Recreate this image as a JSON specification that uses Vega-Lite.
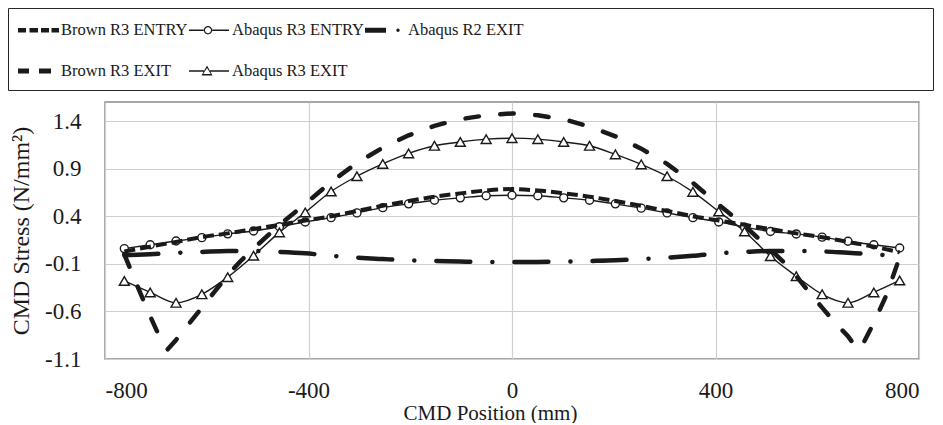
{
  "$schema": "https://vega.github.io/schema/vega-lite/v6.json",
  "padding": {"left": 7, "top": 7, "right": 0, "bottom": 0},
  "width": 814,
  "height": 257,
  "config": {
    "font": "Liberation Serif",
    "view": {"stroke": "#8a8a8a", "strokeWidth": 1.5},
    "axis": {
      "labelFont": "Liberation Serif",
      "labelFontSize": 23,
      "labelColor": "#1a1a1a",
      "titleFont": "Liberation Serif",
      "titleFontWeight": "normal",
      "titleColor": "#1a1a1a",
      "gridColor": "#cfcfcf",
      "gridWidth": 1.2,
      "domain": false,
      "ticks": false,
      "tickSize": 0
    },
    "legend": {
      "labelFont": "Liberation Serif",
      "labelFontSize": 16.5,
      "labelColor": "#1a1a1a"
    }
  },
  "datasets": {
    "stress": [
      {"series": "Abaqus R3 ENTRY", "position": -762, "stress": 0.06},
      {"series": "Abaqus R3 ENTRY", "position": -711.2, "stress": 0.1},
      {"series": "Abaqus R3 ENTRY", "position": -660.4, "stress": 0.14},
      {"series": "Abaqus R3 ENTRY", "position": -609.6, "stress": 0.175},
      {"series": "Abaqus R3 ENTRY", "position": -558.8, "stress": 0.215},
      {"series": "Abaqus R3 ENTRY", "position": -508, "stress": 0.245},
      {"series": "Abaqus R3 ENTRY", "position": -457.2, "stress": 0.29},
      {"series": "Abaqus R3 ENTRY", "position": -406.4, "stress": 0.34},
      {"series": "Abaqus R3 ENTRY", "position": -355.6, "stress": 0.385},
      {"series": "Abaqus R3 ENTRY", "position": -304.8, "stress": 0.435},
      {"series": "Abaqus R3 ENTRY", "position": -254, "stress": 0.49},
      {"series": "Abaqus R3 ENTRY", "position": -203.2, "stress": 0.53},
      {"series": "Abaqus R3 ENTRY", "position": -152.4, "stress": 0.568},
      {"series": "Abaqus R3 ENTRY", "position": -101.6, "stress": 0.593},
      {"series": "Abaqus R3 ENTRY", "position": -50.8, "stress": 0.615},
      {"series": "Abaqus R3 ENTRY", "position": 0, "stress": 0.62},
      {"series": "Abaqus R3 ENTRY", "position": 50.8, "stress": 0.615},
      {"series": "Abaqus R3 ENTRY", "position": 101.6, "stress": 0.593},
      {"series": "Abaqus R3 ENTRY", "position": 152.4, "stress": 0.568},
      {"series": "Abaqus R3 ENTRY", "position": 203.2, "stress": 0.53},
      {"series": "Abaqus R3 ENTRY", "position": 254, "stress": 0.485},
      {"series": "Abaqus R3 ENTRY", "position": 304.8, "stress": 0.435},
      {"series": "Abaqus R3 ENTRY", "position": 355.6, "stress": 0.385},
      {"series": "Abaqus R3 ENTRY", "position": 406.4, "stress": 0.34},
      {"series": "Abaqus R3 ENTRY", "position": 457.2, "stress": 0.285},
      {"series": "Abaqus R3 ENTRY", "position": 508, "stress": 0.24},
      {"series": "Abaqus R3 ENTRY", "position": 558.8, "stress": 0.214},
      {"series": "Abaqus R3 ENTRY", "position": 609.6, "stress": 0.18},
      {"series": "Abaqus R3 ENTRY", "position": 660.4, "stress": 0.137},
      {"series": "Abaqus R3 ENTRY", "position": 711.2, "stress": 0.1},
      {"series": "Abaqus R3 ENTRY", "position": 762, "stress": 0.066},

      {"series": "Abaqus R3 EXIT", "position": -762, "stress": -0.28},
      {"series": "Abaqus R3 EXIT", "position": -711.2, "stress": -0.4},
      {"series": "Abaqus R3 EXIT", "position": -660.4, "stress": -0.51},
      {"series": "Abaqus R3 EXIT", "position": -609.6, "stress": -0.42},
      {"series": "Abaqus R3 EXIT", "position": -558.8, "stress": -0.24},
      {"series": "Abaqus R3 EXIT", "position": -508, "stress": -0.015},
      {"series": "Abaqus R3 EXIT", "position": -457.2, "stress": 0.23},
      {"series": "Abaqus R3 EXIT", "position": -406.4, "stress": 0.44},
      {"series": "Abaqus R3 EXIT", "position": -355.6, "stress": 0.66},
      {"series": "Abaqus R3 EXIT", "position": -304.8, "stress": 0.82},
      {"series": "Abaqus R3 EXIT", "position": -254, "stress": 0.95},
      {"series": "Abaqus R3 EXIT", "position": -203.2, "stress": 1.06},
      {"series": "Abaqus R3 EXIT", "position": -152.4, "stress": 1.14},
      {"series": "Abaqus R3 EXIT", "position": -101.6, "stress": 1.18},
      {"series": "Abaqus R3 EXIT", "position": -50.8, "stress": 1.21},
      {"series": "Abaqus R3 EXIT", "position": 0, "stress": 1.22},
      {"series": "Abaqus R3 EXIT", "position": 50.8, "stress": 1.21},
      {"series": "Abaqus R3 EXIT", "position": 101.6, "stress": 1.18},
      {"series": "Abaqus R3 EXIT", "position": 152.4, "stress": 1.14},
      {"series": "Abaqus R3 EXIT", "position": 203.2, "stress": 1.05},
      {"series": "Abaqus R3 EXIT", "position": 254, "stress": 0.945},
      {"series": "Abaqus R3 EXIT", "position": 304.8, "stress": 0.82},
      {"series": "Abaqus R3 EXIT", "position": 355.6, "stress": 0.656},
      {"series": "Abaqus R3 EXIT", "position": 406.4, "stress": 0.45},
      {"series": "Abaqus R3 EXIT", "position": 457.2, "stress": 0.24},
      {"series": "Abaqus R3 EXIT", "position": 508, "stress": -0.02},
      {"series": "Abaqus R3 EXIT", "position": 558.8, "stress": -0.23},
      {"series": "Abaqus R3 EXIT", "position": 609.6, "stress": -0.42},
      {"series": "Abaqus R3 EXIT", "position": 660.4, "stress": -0.51},
      {"series": "Abaqus R3 EXIT", "position": 711.2, "stress": -0.4},
      {"series": "Abaqus R3 EXIT", "position": 762, "stress": -0.275},

      {"series": "Brown R3 ENTRY", "position": -762, "stress": 0.03},
      {"series": "Brown R3 ENTRY", "position": -711.2, "stress": 0.08},
      {"series": "Brown R3 ENTRY", "position": -660.4, "stress": 0.13},
      {"series": "Brown R3 ENTRY", "position": -609.6, "stress": 0.18},
      {"series": "Brown R3 ENTRY", "position": -558.8, "stress": 0.22},
      {"series": "Brown R3 ENTRY", "position": -508, "stress": 0.265},
      {"series": "Brown R3 ENTRY", "position": -457.2, "stress": 0.31},
      {"series": "Brown R3 ENTRY", "position": -406.4, "stress": 0.355},
      {"series": "Brown R3 ENTRY", "position": -355.6, "stress": 0.4},
      {"series": "Brown R3 ENTRY", "position": -304.8, "stress": 0.455},
      {"series": "Brown R3 ENTRY", "position": -254, "stress": 0.51},
      {"series": "Brown R3 ENTRY", "position": -203.2, "stress": 0.56},
      {"series": "Brown R3 ENTRY", "position": -152.4, "stress": 0.605},
      {"series": "Brown R3 ENTRY", "position": -101.6, "stress": 0.64},
      {"series": "Brown R3 ENTRY", "position": -50.8, "stress": 0.67},
      {"series": "Brown R3 ENTRY", "position": 0, "stress": 0.685},
      {"series": "Brown R3 ENTRY", "position": 50.8, "stress": 0.67},
      {"series": "Brown R3 ENTRY", "position": 101.6, "stress": 0.64},
      {"series": "Brown R3 ENTRY", "position": 152.4, "stress": 0.605},
      {"series": "Brown R3 ENTRY", "position": 203.2, "stress": 0.56},
      {"series": "Brown R3 ENTRY", "position": 254, "stress": 0.51},
      {"series": "Brown R3 ENTRY", "position": 304.8, "stress": 0.455},
      {"series": "Brown R3 ENTRY", "position": 355.6, "stress": 0.4},
      {"series": "Brown R3 ENTRY", "position": 406.4, "stress": 0.355},
      {"series": "Brown R3 ENTRY", "position": 457.2, "stress": 0.31},
      {"series": "Brown R3 ENTRY", "position": 508, "stress": 0.265},
      {"series": "Brown R3 ENTRY", "position": 558.8, "stress": 0.22},
      {"series": "Brown R3 ENTRY", "position": 609.6, "stress": 0.18},
      {"series": "Brown R3 ENTRY", "position": 660.4, "stress": 0.13},
      {"series": "Brown R3 ENTRY", "position": 711.2, "stress": 0.08},
      {"series": "Brown R3 ENTRY", "position": 762, "stress": 0.02},

      {"series": "Brown R3 EXIT", "position": -762, "stress": 0.0},
      {"series": "Brown R3 EXIT", "position": -736.6, "stress": -0.33},
      {"series": "Brown R3 EXIT", "position": -711.2, "stress": -0.65},
      {"series": "Brown R3 EXIT", "position": -690, "stress": -0.9},
      {"series": "Brown R3 EXIT", "position": -677, "stress": -1.0},
      {"series": "Brown R3 EXIT", "position": -660.4, "stress": -0.9},
      {"series": "Brown R3 EXIT", "position": -635, "stress": -0.73},
      {"series": "Brown R3 EXIT", "position": -609.6, "stress": -0.56},
      {"series": "Brown R3 EXIT", "position": -584.2, "stress": -0.39},
      {"series": "Brown R3 EXIT", "position": -558.8, "stress": -0.22},
      {"series": "Brown R3 EXIT", "position": -533.4, "stress": -0.07},
      {"series": "Brown R3 EXIT", "position": -508, "stress": 0.06},
      {"series": "Brown R3 EXIT", "position": -457.2, "stress": 0.31},
      {"series": "Brown R3 EXIT", "position": -406.4, "stress": 0.53},
      {"series": "Brown R3 EXIT", "position": -355.6, "stress": 0.76},
      {"series": "Brown R3 EXIT", "position": -304.8, "stress": 0.96},
      {"series": "Brown R3 EXIT", "position": -254, "stress": 1.12},
      {"series": "Brown R3 EXIT", "position": -203.2, "stress": 1.25},
      {"series": "Brown R3 EXIT", "position": -152.4, "stress": 1.35},
      {"series": "Brown R3 EXIT", "position": -101.6, "stress": 1.42},
      {"series": "Brown R3 EXIT", "position": -50.8, "stress": 1.46},
      {"series": "Brown R3 EXIT", "position": 0, "stress": 1.48},
      {"series": "Brown R3 EXIT", "position": 50.8, "stress": 1.46},
      {"series": "Brown R3 EXIT", "position": 101.6, "stress": 1.42},
      {"series": "Brown R3 EXIT", "position": 152.4, "stress": 1.34},
      {"series": "Brown R3 EXIT", "position": 203.2, "stress": 1.24},
      {"series": "Brown R3 EXIT", "position": 254, "stress": 1.11},
      {"series": "Brown R3 EXIT", "position": 304.8, "stress": 0.95},
      {"series": "Brown R3 EXIT", "position": 355.6, "stress": 0.75},
      {"series": "Brown R3 EXIT", "position": 406.4, "stress": 0.52},
      {"series": "Brown R3 EXIT", "position": 457.2, "stress": 0.3},
      {"series": "Brown R3 EXIT", "position": 508, "stress": 0.05},
      {"series": "Brown R3 EXIT", "position": 533.4, "stress": -0.08},
      {"series": "Brown R3 EXIT", "position": 558.8, "stress": -0.23},
      {"series": "Brown R3 EXIT", "position": 584.2, "stress": -0.4},
      {"series": "Brown R3 EXIT", "position": 609.6, "stress": -0.56},
      {"series": "Brown R3 EXIT", "position": 635, "stress": -0.72},
      {"series": "Brown R3 EXIT", "position": 660.4, "stress": -0.86},
      {"series": "Brown R3 EXIT", "position": 679, "stress": -1.0},
      {"series": "Brown R3 EXIT", "position": 692, "stress": -0.92},
      {"series": "Brown R3 EXIT", "position": 711.2, "stress": -0.72},
      {"series": "Brown R3 EXIT", "position": 736.6, "stress": -0.42},
      {"series": "Brown R3 EXIT", "position": 762, "stress": -0.03},

      {"series": "Abaqus R2 EXIT", "position": -762, "stress": -0.01},
      {"series": "Abaqus R2 EXIT", "position": -711.2, "stress": 0.0},
      {"series": "Abaqus R2 EXIT", "position": -660.4, "stress": 0.015},
      {"series": "Abaqus R2 EXIT", "position": -609.6, "stress": 0.025},
      {"series": "Abaqus R2 EXIT", "position": -558.8, "stress": 0.035},
      {"series": "Abaqus R2 EXIT", "position": -508, "stress": 0.035},
      {"series": "Abaqus R2 EXIT", "position": -457.2, "stress": 0.025},
      {"series": "Abaqus R2 EXIT", "position": -406.4, "stress": 0.01},
      {"series": "Abaqus R2 EXIT", "position": -355.6, "stress": -0.015},
      {"series": "Abaqus R2 EXIT", "position": -304.8, "stress": -0.035},
      {"series": "Abaqus R2 EXIT", "position": -254, "stress": -0.05},
      {"series": "Abaqus R2 EXIT", "position": -203.2, "stress": -0.063},
      {"series": "Abaqus R2 EXIT", "position": -152.4, "stress": -0.07},
      {"series": "Abaqus R2 EXIT", "position": -101.6, "stress": -0.076},
      {"series": "Abaqus R2 EXIT", "position": -50.8, "stress": -0.08},
      {"series": "Abaqus R2 EXIT", "position": 0, "stress": -0.08},
      {"series": "Abaqus R2 EXIT", "position": 50.8, "stress": -0.08},
      {"series": "Abaqus R2 EXIT", "position": 101.6, "stress": -0.076},
      {"series": "Abaqus R2 EXIT", "position": 152.4, "stress": -0.07},
      {"series": "Abaqus R2 EXIT", "position": 203.2, "stress": -0.063},
      {"series": "Abaqus R2 EXIT", "position": 254, "stress": -0.05},
      {"series": "Abaqus R2 EXIT", "position": 304.8, "stress": -0.035},
      {"series": "Abaqus R2 EXIT", "position": 355.6, "stress": -0.015},
      {"series": "Abaqus R2 EXIT", "position": 406.4, "stress": 0.01},
      {"series": "Abaqus R2 EXIT", "position": 457.2, "stress": 0.025},
      {"series": "Abaqus R2 EXIT", "position": 508, "stress": 0.035},
      {"series": "Abaqus R2 EXIT", "position": 558.8, "stress": 0.035},
      {"series": "Abaqus R2 EXIT", "position": 609.6, "stress": 0.03},
      {"series": "Abaqus R2 EXIT", "position": 660.4, "stress": 0.015},
      {"series": "Abaqus R2 EXIT", "position": 711.2, "stress": 0.0},
      {"series": "Abaqus R2 EXIT", "position": 762, "stress": -0.02}
    ]
  },
  "data": {"name": "stress"},
  "encoding": {
    "x": {
      "field": "position",
      "type": "quantitative",
      "scale": {"domain": [-800, 800], "nice": false},
      "axis": {
        "values": [-800, -400, 0, 400, 800],
        "labelExpr": "datum.value < 0 ? '-' + format(-datum.value, 'd') : format(datum.value, 'd')",
        "labelPadding": 20,
        "title": "CMD Position (mm)",
        "titleFontSize": 21,
        "titlePadding": 0,
        "titleX": 385
      }
    },
    "y": {
      "field": "stress",
      "type": "quantitative",
      "scale": {"domain": [-1.1, 1.6], "nice": false, "zero": false},
      "axis": {
        "values": [-1.1, -0.6, -0.1, 0.4, 0.9, 1.4],
        "labelExpr": "datum.value < 0 ? '-' + format(-datum.value, '.1f') : format(datum.value, '.1f')",
        "labelPadding": 24,
        "title": "CMD Stress (N/mm²)",
        "titleFontSize": 24,
        "titlePadding": 11
      }
    }
  },
  "layer": [
    {
      "transform": [{"filter": "datum.series == 'Abaqus R3 ENTRY' || datum.series == 'Abaqus R3 EXIT'"}],
      "mark": {"type": "line", "interpolate": "monotone", "color": "#1a1a1a", "strokeWidth": 1.4},
      "encoding": {"detail": {"field": "series"}}
    },
    {
      "transform": [{"filter": "datum.series == 'Abaqus R3 ENTRY'"}],
      "mark": {"type": "point", "shape": "circle", "size": 64, "filled": true, "fill": "white", "stroke": "#1a1a1a", "strokeWidth": 1.4, "opacity": 1}
    },
    {
      "transform": [{"filter": "datum.series == 'Abaqus R3 EXIT'"}],
      "mark": {"type": "point", "shape": "triangle-up", "size": 100, "filled": true, "fill": "white", "stroke": "#1a1a1a", "strokeWidth": 1.4, "opacity": 1}
    },
    {
      "transform": [{"filter": "datum.series == 'Brown R3 ENTRY'"}],
      "mark": {"type": "line", "interpolate": "monotone", "color": "#1a1a1a", "strokeWidth": 4, "strokeDash": [11, 5]}
    },
    {
      "transform": [{"filter": "datum.series == 'Brown R3 EXIT'"}],
      "mark": {"type": "line", "interpolate": "linear", "color": "#1a1a1a", "strokeWidth": 4.5, "strokeCap": "round", "strokeDash": [13.5, 21.5]}
    },
    {
      "transform": [{"filter": "datum.series == 'Abaqus R2 EXIT'"}],
      "mark": {"type": "line", "interpolate": "monotone", "color": "#1a1a1a", "strokeWidth": 4.5, "strokeCap": "round", "strokeDash": [34, 22, 0.1, 22]}
    },
    {
      "transform": [{"filter": "false"}],
      "mark": {"type": "point", "filled": true, "color": "#1a1a1a", "opacity": 1},
      "encoding": {
        "shape": {
          "field": "series",
          "type": "nominal",
          "scale": {
            "domain": ["Brown R3 ENTRY", "Abaqus R3 ENTRY", "Abaqus R2 EXIT", "Brown R3 EXIT", "Abaqus R3 EXIT"],
            "range": [
              "M-1,-0.183H-0.333V0.183H-1Z M-0.042,-0.183H0.667V0.183H-0.042Z M0.917,-0.183H1.583V0.183H0.917Z M1.792,-0.183H2.417V0.183H1.792Z",
              "M-1,-0.0625H0.25V0.0625H-1Z M0.917,-0.0625H2.333V0.0625H0.917Z M0.933,0A0.35,0.35 0 1,0 0.233,0A0.35,0.35 0 1,0 0.933,0Z M0.833,0A0.25,0.25 0 1,1 0.333,0A0.25,0.25 0 1,1 0.833,0Z",
              "M-1,-0.208H0.75V0.208H-1Z M1.89,0A0.14,0.14 0 1,0 1.61,0A0.14,0.14 0 1,0 1.89,0Z",
              "M-1,-0.208H-0.083V0.208H-1Z M0.75,-0.208H1.75V0.208H0.75Z",
              "M-1,-0.0625H0.25V0.0625H-1Z M0.75,-0.0625H2.333V0.0625H0.75Z M0.5,-0.458L0.958,0.375L0.042,0.375Z M0.5,-0.25L0.19,0.26L0.81,0.26Z"
            ]
          },
          "legend": {
            "title": " ",
            "titleOrient": "right",
            "titlePadding": 400,
            "orient": "none",
            "legendX": -97,
            "legendY": -94,
            "direction": "horizontal",
            "columns": 3,
            "gridAlign": "each",
            "columnPadding": 1,
            "rowPadding": 20,
            "labelOffset": 19,
            "padding": 10,
            "strokeColor": "#262626",
            "symbolSize": 576,
            "symbolStrokeWidth": 0,
            "symbolFillColor": "#1a1a1a",
            "symbolOpacity": 1
          }
        }
      }
    }
  ]
}
